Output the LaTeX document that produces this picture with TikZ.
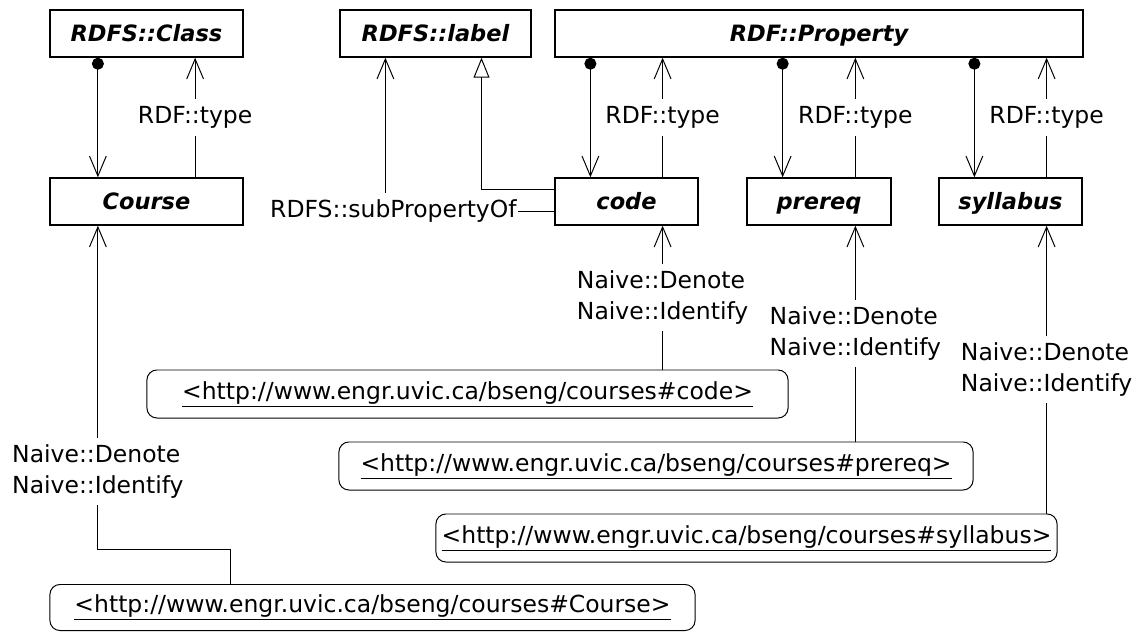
\documentclass[tikz,border=0pt]{standalone}
\usepackage{fontspec}
\setsansfont{DejaVu Sans}
\usetikzlibrary{arrows.meta,calc,positioning}

\begin{document}
\begin{tikzpicture}[
    x=0.025cm,
    y=-0.025cm,
    font=\sffamily\fontsize{16.7}{22}\selectfont,
    klass/.style={
        draw,
        line width=1pt,
        font=\sffamily\bfseries\itshape\fontsize{16}{20}\selectfont,
        minimum height=1.175cm,
        text height=11.7pt,
        text depth=0pt,
        inner sep=0pt
    },
    uri/.style={
        draw,
        line width=0.7pt,
        rounded corners=0.25cm,
        minimum height=1.2cm,
        inner sep=0pt
    },
    lab/.style={
        fill=white,
        align=left,
        inner xsep=1pt,
        inner ysep=5pt
    },
    link/.style={line width=0.7pt,-{Straight Barb[length=0.5cm,width=0.42cm]}},
    inst/.style={line width=0.7pt,{Circle[length=0.3cm]}-{Straight Barb[length=0.5cm,width=0.42cm]}},
    subclass/.style={line width=0.7pt,-{Triangle[open,length=0.5cm,width=0.4cm]}}
]

\useasboundingbox (0,0) rectangle (1141,632);

% --------------------------------------------------
% Classes
% --------------------------------------------------

\node[klass, minimum width=4.825cm] (rdfsclass) at (146.5,33.5) {RDFS::Class};
\node[klass, minimum width=4.775cm] (rdfslabel) at (435.5,33.5) {RDFS::label};
\node[klass, minimum width=13.2cm] (rdfprop) at (819,33.5) {RDF::Property};

\node[klass, minimum width=4.825cm] (course) at (146.5,201.5) {Course};
\node[klass, minimum width=3.575cm] (code) at (626.5,201.5) {code};
\node[klass, minimum width=3.6cm] (prereq) at (819,201.5) {prereq};
\node[klass, minimum width=3.575cm] (syllabus) at (1010.5,201.5) {syllabus};

% --------------------------------------------------
% URIs
% --------------------------------------------------

\node[uri, minimum width=16.025cm] (uricode) at (467.5,394)
    {\underline{<http://www.engr.uvic.ca/bseng/courses\#code>}};

\node[uri, minimum width=15.85cm] (uriprereq) at (656,466)
    {\underline{<http://www.engr.uvic.ca/bseng/courses\#prereq>}};

\node[uri, minimum width=15.525cm] (urisyllabus) at (746.5,538)
    {\underline{<http://www.engr.uvic.ca/bseng/courses\#syllabus>}};

\node[uri, minimum width=16.125cm, minimum height=1.15cm] (uricourse) at (372.5,607.5)
    {\underline{<http://www.engr.uvic.ca/bseng/courses\#Course>}};

% --------------------------------------------------
% Instances and types
% --------------------------------------------------

\foreach \low/\up in {course/rdfsclass,code/rdfprop,prereq/rdfprop,syllabus/rdfprop}
{
    \coordinate (\low-l) at ($(\low.north west)!0.25!(\low.north east)$);
    \coordinate (\low-r) at ($(\low.north west)!0.75!(\low.north east)$);
    \draw[inst] (\low-l |- \up.south) -- (\low-l);
    \draw[link] (\low-r) -- node[lab] {RDF::type} (\low-r |- \up.south);
}

% --------------------------------------------------
% Sub property
% --------------------------------------------------

\coordinate (spo) at ([yshift=-0.25cm]code.west);
\node[lab, left=0.9cm of spo] (subprop) {RDFS::subPropertyOf};
\coordinate (spup) at ([xshift=-0.2cm]subprop.north);

\draw[line width=0.7pt] (spo) -- (subprop);
\draw[link] (spup) -- (spup |- rdfslabel.south);

\draw[subclass] ([yshift=0.3cm]code.west) -| ([xshift=1.15cm]rdfslabel.south);

% --------------------------------------------------
% Denotations
% --------------------------------------------------

\foreach \low in {code,prereq,syllabus}
{
    \draw[link] (uri\low.north -| \low-r) --
        node[lab] {Naive::Denote\\Naive::Identify} (\low-r |- \low.south);
}

\draw[link] ([xshift=4.525cm]uricourse.north west) -- ++(0,-35) -|
    node[lab, pos=0.62] {Naive::Denote\\Naive::Identify} (course-l |- course.south);

\end{tikzpicture}
\end{document}
